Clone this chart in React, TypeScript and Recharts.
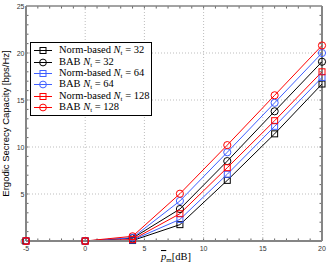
import React from 'react';
import { LineChart, Line, XAxis, YAxis, ReferenceLine, Legend, Label } from 'recharts';

// ---- data ----
const snrDb = [-5, 0, 4, 8, 12, 16, 20];
const normNt32 = [0, 0, 0.05, 1.74, 6.45, 11.4, 16.7];
const babNt32 = [0, 0, 0.3, 3.4, 8.5, 13.8, 19.07];
const normNt64 = [0, 0, 0.1, 2.3, 7.1, 12.2, 17.4];
const babNt64 = [0, 0, 0.35, 4.26, 9.44, 14.7, 20.0];
const normNt128 = [0, 0, 0.15, 2.9, 7.8, 12.8, 18.0];
const babNt128 = [0, 0, 0.5, 5.03, 10.2, 15.5, 20.8];

const seriesKeys = ['norm32', 'bab32', 'norm64', 'bab64', 'norm128', 'bab128'];
const seriesMethods = ['Norm-based', 'BAB', 'Norm-based', 'BAB', 'Norm-based', 'BAB'];
const seriesNt = [32, 32, 64, 64, 128, 128];
const seriesColors = ['#000000', '#000000', '#3f5fff', '#3f5fff', '#ff0000', '#ff0000'];
const seriesShapes = ['square', 'circle', 'square', 'circle', 'square', 'circle'];

const xMajorTicks = [-5, 0, 5, 10, 15, 20];
const yMajorTicks = [0, 5, 10, 15, 20, 25];
const xMinorTicks = [-4, -3, -2, -1, 0, 1, 2, 3, 4, 5, 6, 7, 8, 9, 10, 11, 12, 13, 14, 15, 16, 17, 18, 19];
const yMinorTicks = [1, 2, 3, 4, 5, 6, 7, 8, 9, 10, 11, 12, 13, 14, 15, 16, 17, 18, 19, 20, 21, 22, 23, 24];
const xGrid = [0, 5, 10, 15];
const yGrid = [5, 10, 15, 20];
const xDomain = [-5, 20];
const yDomain = [0, 25];

const seriesValues = [normNt32, babNt32, normNt64, babNt64, normNt128, babNt128];
const data = snrDb.map((x, i) => {
  const row: any = { x };
  seriesKeys.forEach((k, s) => {
    row[k] = seriesValues[s][i];
  });
  return row;
});

const AXIS_GRAY = '#858585';
const TICK_GRAY = '#666';
const SANS = '"Liberation Sans", Arial, sans-serif';
const SERIF = '"Liberation Serif", "Times New Roman", serif';

// tick length in data units (~2.5px)
const TICK_Y_LEN = 0.27;
const TICK_X_LEN = 0.21;

const makeDot = (color: string, shape: string) => (props: any) => {
  const { cx, cy, index } = props;
  if (cx == null || cy == null) return <g key={index} />;
  if (shape === 'square') {
    return <rect key={index} x={cx - 3} y={cy - 3} width={6} height={6} fill="none" stroke={color} strokeWidth={1} />;
  }
  return <circle key={index} cx={cx} cy={cy} r={3.6} fill="none" stroke={color} strokeWidth={1} />;
};

const XTick = (props: any) => {
  const { x, payload } = props;
  return (
    <text x={x} y={250.5} textAnchor="middle" fontSize={7} fontFamily={SANS} fill="#333">
      {payload.value}
    </text>
  );
};

const YTick = (props: any) => {
  const { y, payload } = props;
  return (
    <text x={24.5} y={y + 2.5} textAnchor="end" fontSize={7} fontFamily={SANS} fill="#333">
      {payload.value}
    </text>
  );
};

const YLabel = (props: any) => {
  const vb = props.viewBox || { x: 0, y: 6, width: 26, height: 235 };
  const cx = vb.x + 9;
  const cy = vb.y + vb.height / 2;
  return (
    <text x={cx} y={cy} transform={`rotate(-90, ${cx}, ${cy})`} textAnchor="middle" fontSize={9.5} fontFamily={SANS} fill="#000">
      Ergodic Secrecy Capacity [bps/Hz]
    </text>
  );
};

const XLabel = (props: any) => {
  const vb = props.viewBox || { x: 26, y: 241, width: 296, height: 23 };
  const cx = vb.x + vb.width / 2 + 2;
  return (
    <text x={cx} y={260} textAnchor="middle" fontSize={10.5} fontFamily={SERIF} fill="#000">
      <tspan fontStyle="italic" textDecoration="overline">p</tspan>
      <tspan fontSize={7} dy={2}>m</tspan>
      <tspan dy={-2}>[dB]</tspan>
    </text>
  );
};

const LegendContent = (props: any) => {
  const payload = [...(props.payload || [])].sort(
    (a: any, b: any) => seriesKeys.indexOf(a.dataKey) - seriesKeys.indexOf(b.dataKey)
  );
  return (
    <div
      style={{
        border: '1px solid #000',
        background: '#fff',
        width: 120,
        padding: '2px 0 2px 0',
        fontFamily: SERIF,
        fontSize: 10.5,
        lineHeight: '11.4px',
        color: '#000',
      }}
    >
      {payload.map((entry: any, i: number) => {
        const s = seriesKeys.indexOf(entry.dataKey);
        const color = seriesColors[s];
        return (
          <div key={i} style={{ display: 'flex', alignItems: 'center', height: 11.4, whiteSpace: 'nowrap' }}>
            <svg width={24} height={11} style={{ marginLeft: 2, marginRight: 2, flex: 'none' }}>
              <line x1={1} y1={5.5} x2={19} y2={5.5} stroke={color} strokeWidth={1} />
              {seriesShapes[s] === 'square' ? (
                <rect x={7} y={2.5} width={6} height={6} fill="none" stroke={color} strokeWidth={1} />
              ) : (
                <circle cx={10} cy={5.5} r={3.4} fill="none" stroke={color} strokeWidth={1} />
              )}
            </svg>
            <span style={{ lineHeight: '11px' }}>
              {seriesMethods[s]} <i>N</i>
              <span style={{ fontSize: 7, position: 'relative', top: 2 }}>t</span> = {seriesNt[s]}
            </span>
          </div>
        );
      })}
    </div>
  );
};

export default function App() {
  const tickStyle = { stroke: TICK_GRAY, strokeWidth: 1 };
  return (
    <div style={{ position: 'absolute', left: 0, top: 0, width: 332, height: 264, background: '#fff' }}>
      <LineChart width={332} height={264} data={data} margin={{ top: 6, right: 10, left: 0, bottom: 0 }}>
        {xGrid.map((v) => (
          <ReferenceLine key={'gx' + v} x={v} stroke="#bdbdbd" strokeDasharray="1 2" strokeWidth={1} />
        ))}
        {yGrid.map((v) => (
          <ReferenceLine key={'gy' + v} y={v} stroke="#bdbdbd" strokeDasharray="1 2" strokeWidth={1} />
        ))}
        {/* inward minor/major ticks on all four sides */}
        {xMinorTicks.concat(xGrid.filter(() => false)).map((v) => (
          <ReferenceLine
            key={'tb' + v}
            segment={[{ x: v, y: yDomain[0] }, { x: v, y: yDomain[0] + TICK_Y_LEN }]}
            {...tickStyle}
          />
        ))}
        {xMinorTicks.map((v) => (
          <ReferenceLine
            key={'tt' + v}
            segment={[{ x: v, y: yDomain[1] }, { x: v, y: yDomain[1] - TICK_Y_LEN }]}
            {...tickStyle}
          />
        ))}
        {yMinorTicks.map((v) => (
          <ReferenceLine
            key={'tl' + v}
            segment={[{ x: xDomain[0], y: v }, { x: xDomain[0] + TICK_X_LEN, y: v }]}
            {...tickStyle}
          />
        ))}
        {yMinorTicks.map((v) => (
          <ReferenceLine
            key={'tr' + v}
            segment={[{ x: xDomain[1], y: v }, { x: xDomain[1] - TICK_X_LEN, y: v }]}
            {...tickStyle}
          />
        ))}
        {/* box: top and right edges */}
        <ReferenceLine y={yDomain[1]} stroke={AXIS_GRAY} strokeWidth={1.5} />
        <ReferenceLine x={xDomain[1]} stroke={AXIS_GRAY} strokeWidth={2} />
        <XAxis
          dataKey="x"
          type="number"
          domain={xDomain}
          ticks={xMajorTicks}
          interval={0}
          tickLine={false}
          height={23}
          axisLine={{ stroke: AXIS_GRAY, strokeWidth: 2 }}
          tick={<XTick />}
        >
          <Label content={<XLabel />} />
        </XAxis>
        <YAxis
          type="number"
          domain={yDomain}
          ticks={yMajorTicks}
          interval={0}
          tickLine={false}
          width={26}
          axisLine={{ stroke: AXIS_GRAY, strokeWidth: 2 }}
          tick={<YTick />}
        >
          <Label content={<YLabel />} />
        </YAxis>
        {seriesKeys.map((k, s) => (
          <Line
            key={k}
            dataKey={k}
            name={`${seriesMethods[s]} Nt = ${seriesNt[s]}`}
            type="linear"
            stroke={seriesColors[s]}
            strokeWidth={1}
            dot={makeDot(seriesColors[s], seriesShapes[s])}
            activeDot={false}
            isAnimationActive={false}
          />
        ))}
        <Legend
          layout="horizontal"
          verticalAlign="middle"
          align="center"
          content={<LegendContent />}
          wrapperStyle={{ position: 'absolute', left: 30, top: 42, width: 'auto', height: 'auto' }}
        />
      </LineChart>
    </div>
  );
}
